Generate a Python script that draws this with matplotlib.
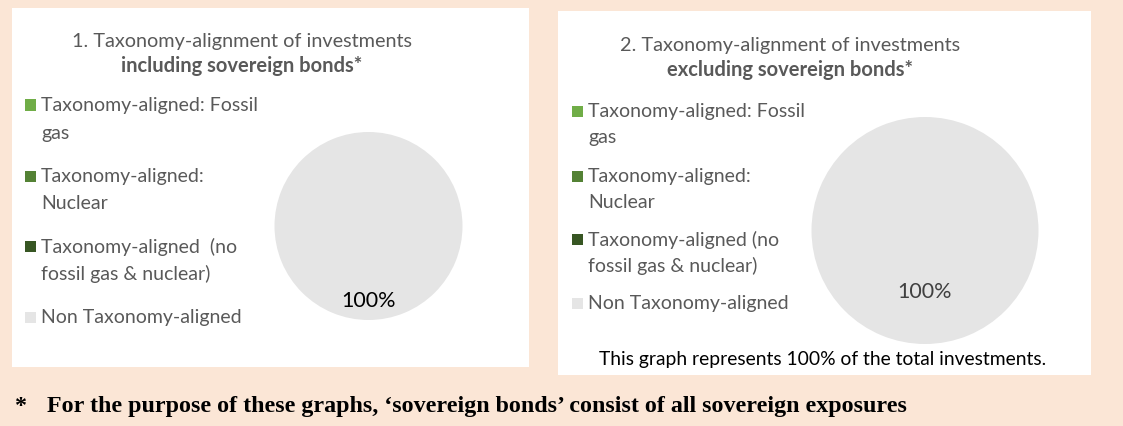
import matplotlib
matplotlib.use('Agg')
import matplotlib.pyplot as plt
from matplotlib.patches import Rectangle

W, H = 1123, 427

categories = ['Taxonomy-aligned: Fossil gas', 'Taxonomy-aligned: Nuclear',
              'Taxonomy-aligned (no fossil gas & nuclear)', 'Non Taxonomy-aligned']
incl_values = [0, 0, 0, 100]
excl_values = [0, 0, 0, 100]
colors = ['#70AD47', '#548235', '#375623', '#E5E5E5']

legend_incl = [['Taxonomy-aligned: Fossil', 'gas'],
               ['Taxonomy-aligned:', 'Nuclear'],
               ['Taxonomy-aligned  (no', 'fossil gas & nuclear)'],
               ['Non Taxonomy-aligned']]
legend_excl = [['Taxonomy-aligned: Fossil', 'gas'],
               ['Taxonomy-aligned:', 'Nuclear'],
               ['Taxonomy-aligned (no', 'fossil gas & nuclear)'],
               ['Non Taxonomy-aligned']]

plt.rcParams['font.family'] = ['Lato', 'DejaVu Sans']
TXT = '#595959'
FS = 14

fig = plt.figure(figsize=(W / 100, H / 100), dpi=100)
fig.patch.set_facecolor('#FBE6D6')


def fx(x):
    return x / W


def fy(y):
    return 1 - y / H


def panel(x0, y0, x1, y1):
    fig.patches.append(Rectangle((fx(x0), fy(y1)), fx(x1 - x0), (y1 - y0) / H,
                                 transform=fig.transFigure, facecolor='white',
                                 edgecolor='none', zorder=-1))


def pie(values, cx, cy, r, pctdist, pctcolor):
    ax = fig.add_axes([fx(cx - r), fy(cy + r), 2 * r / W, 2 * r / H])
    ax.pie(values, colors=colors, startangle=90, counterclock=False,
           autopct=lambda p: f'{p:.0f}%' if p > 0 else '',
           pctdistance=pctdist, textprops={'fontsize': 15.5, 'color': pctcolor},
           wedgeprops={'linewidth': 0})
    ax.set_xlim(-1, 1)
    ax.set_ylim(-1, 1)
    ax.axis('off')


def legend(labels, mx, tx, ys, gap):
    for lines, c, y in zip(labels, colors, ys):
        fig.patches.append(Rectangle((fx(mx), fy(y + 5.5)), 11 / W, 11 / H,
                                     transform=fig.transFigure, facecolor=c,
                                     edgecolor='none'))
        for i, line in enumerate(lines):
            fig.text(fx(tx), fy(y + i * gap), line, fontsize=FS, color=TXT,
                     ha='left', va='center')


# left chart: including sovereign bonds
panel(12, 9, 529, 368)
fig.text(fx(242), fy(41), '1. Taxonomy-alignment of investments', fontsize=14.3,
         color=TXT, ha='center', va='center')
fig.text(fx(242), fy(66), 'including sovereign bonds*', fontsize=14.5,
         color=TXT, ha='center', va='center', fontweight='bold')
legend(legend_incl, 25, 41, [106, 177, 247, 318], 27)
pie(incl_values, 368.5, 227, 94, 0.79, 'black')

# right chart: excluding sovereign bonds
panel(558, 12, 1091, 376)
fig.text(fx(790), fy(45), '2. Taxonomy-alignment of investments', fontsize=14.3,
         color=TXT, ha='center', va='center')
fig.text(fx(790), fy(70), 'excluding sovereign bonds*', fontsize=14.5,
         color=TXT, ha='center', va='center', fontweight='bold')
legend(legend_excl, 572, 588, [112, 177, 240, 304], 25.5)
pie(excl_values, 925, 231.5, 113.5, 0.53, '#404040')
fig.text(fx(823), fy(360), 'This graph represents 100% of the total investments.',
         fontsize=13.9, color='black', ha='center', va='center')

fig.text(fx(21), fy(407), '*', fontsize=17.3, fontweight='bold',
         family='Liberation Serif', ha='center', va='center')
fig.text(fx(47), fy(407),
         'For the purpose of these graphs, \u2018sovereign bonds\u2019 consist of all sovereign exposures',
         fontsize=17.3, fontweight='bold', family='Liberation Serif',
         ha='left', va='center')

fig.savefig('out.png', dpi=100, facecolor=fig.get_facecolor())
